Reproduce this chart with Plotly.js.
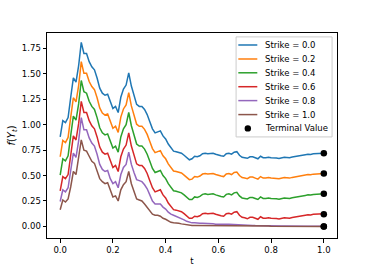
<!DOCTYPE html>
<html><head><meta charset="utf-8">
<script src="https://cdn.plot.ly/plotly-3.0.1.min.js"></script>
<style>html,body{margin:0;padding:0;background:#fff;}#chart{width:374px;height:273px;}</style>
</head><body><div id="chart"></div>
<script>
const t = [0.00,0.01,0.02,0.03,0.04,0.05,0.06,0.07,0.08,0.09,
  0.10,0.11,0.12,0.13,0.14,0.15,0.16,0.17,0.18,0.19,
  0.20,0.21,0.22,0.23,0.24,0.25,0.26,0.27,0.28,0.29,
  0.30,0.31,0.32,0.33,0.34,0.35,0.36,0.37,0.38,0.39,
  0.40,0.41,0.42,0.43,0.44,0.45,0.46,0.47,0.48,0.49,
  0.50,0.51,0.52,0.53,0.54,0.55,0.56,0.57,0.58,0.59,
  0.60,0.61,0.62,0.63,0.64,0.65,0.66,0.67,0.68,0.69,
  0.70,0.71,0.72,0.73,0.74,0.75,0.76,0.77,0.78,0.79,
  0.80,0.81,0.82,0.83,0.84,0.85,0.86,0.87,0.88,0.89,
  0.90,0.91,0.92,0.93,0.94,0.95,0.96,0.97,0.98,0.99,1.00];

const strikes = [0.0, 0.2, 0.4, 0.6, 0.8, 1.0];

const strike00 = [0.88,1.04,1.02,1.07,1.27,1.46,1.42,1.58,1.81,1.70,
  1.70,1.62,1.57,1.54,1.46,1.36,1.31,1.29,1.30,1.22,
  1.16,1.18,1.12,1.27,1.35,1.39,1.51,1.38,1.29,1.20,
  1.18,1.18,1.15,1.10,1.03,0.96,0.92,0.93,0.94,0.89,
  0.86,0.81,0.77,0.74,0.735,0.73,0.72,0.70,0.675,0.655,
  0.665,0.69,0.685,0.695,0.715,0.72,0.715,0.715,0.72,0.71,
  0.70,0.695,0.69,0.715,0.72,0.71,0.73,0.735,0.70,0.68,
  0.675,0.67,0.685,0.685,0.675,0.665,0.69,0.675,0.675,0.68,
  0.675,0.67,0.672,0.668,0.675,0.68,0.678,0.675,0.682,0.688,
  0.69,0.695,0.70,0.705,0.71,0.708,0.714,0.715,0.713,0.718,0.72];

const strike02 = [0.685,0.845,0.825,0.875,1.075,1.265,1.225,1.385,1.62,1.505,
  1.505,1.425,1.375,1.345,1.265,1.165,1.115,1.095,1.105,1.025,
  0.965,0.985,0.925,1.075,1.155,1.195,1.315,1.185,1.095,1.005,
  0.985,0.985,0.955,0.905,0.835,0.765,0.725,0.735,0.745,0.695,
  0.665,0.615,0.575,0.545,0.54,0.535,0.525,0.505,0.48,0.46,
  0.465,0.49,0.485,0.495,0.515,0.52,0.515,0.515,0.52,0.51,
  0.50,0.495,0.49,0.515,0.52,0.51,0.53,0.535,0.50,0.48,
  0.475,0.47,0.485,0.485,0.475,0.465,0.49,0.475,0.475,0.48,
  0.475,0.47,0.472,0.468,0.475,0.48,0.478,0.475,0.482,0.488,
  0.49,0.495,0.50,0.505,0.51,0.508,0.514,0.515,0.513,0.518,0.52];

const strike04 = [0.505,0.665,0.645,0.695,0.895,1.085,1.045,1.205,1.435,1.325,
  1.31,1.23,1.18,1.15,1.07,0.97,0.92,0.90,0.91,0.83,
  0.77,0.79,0.73,0.88,0.96,1.00,1.12,0.99,0.90,0.81,
  0.79,0.79,0.76,0.71,0.64,0.57,0.53,0.54,0.55,0.50,
  0.47,0.42,0.38,0.35,0.345,0.34,0.33,0.31,0.285,0.265,
  0.265,0.29,0.285,0.295,0.315,0.32,0.315,0.315,0.32,0.31,
  0.30,0.295,0.29,0.315,0.32,0.31,0.33,0.335,0.30,0.28,
  0.275,0.27,0.285,0.285,0.275,0.265,0.29,0.275,0.275,0.28,
  0.275,0.27,0.272,0.268,0.275,0.28,0.278,0.275,0.282,0.288,
  0.29,0.295,0.30,0.305,0.31,0.308,0.314,0.315,0.313,0.318,0.32];

const strike06 = [0.35,0.49,0.47,0.51,0.70,0.89,0.85,1.01,1.23,1.12,
  1.12,1.04,0.99,0.96,0.88,0.78,0.73,0.71,0.72,0.64,
  0.58,0.60,0.54,0.685,0.76,0.80,0.92,0.79,0.70,0.615,
  0.60,0.60,0.57,0.52,0.45,0.38,0.34,0.35,0.36,0.31,
  0.28,0.23,0.195,0.165,0.16,0.155,0.145,0.125,0.10,0.08,
  0.08,0.10,0.095,0.105,0.125,0.13,0.125,0.125,0.13,0.12,
  0.11,0.105,0.10,0.125,0.13,0.12,0.14,0.145,0.11,0.09,
  0.085,0.075,0.09,0.09,0.08,0.07,0.095,0.08,0.08,0.085,
  0.08,0.075,0.077,0.073,0.08,0.085,0.083,0.08,0.087,0.093,
  0.095,0.10,0.105,0.11,0.115,0.113,0.119,0.12,0.118,0.123,0.125];

const strike08 = [0.245,0.36,0.34,0.38,0.55,0.72,0.68,0.84,1.07,0.95,
  0.95,0.87,0.82,0.79,0.71,0.61,0.56,0.54,0.55,0.47,
  0.42,0.44,0.38,0.51,0.58,0.61,0.73,0.61,0.53,0.46,
  0.45,0.44,0.41,0.37,0.31,0.25,0.22,0.22,0.22,0.19,
  0.17,0.14,0.12,0.11,0.10,0.09,0.08,0.065,0.05,0.04,
  0.035,0.035,0.03,0.03,0.03,0.03,0.027,0.025,0.025,0.022,
  0.02,0.018,0.017,0.02,0.021,0.019,0.022,0.022,0.015,0.011,
  0.01,0.009,0.01,0.009,0.008,0.007,0.008,0.007,0.006,0.006,
  0.005,0.005,0.004,0.004,0.004,0.004,0.003,0.003,0.003,0.003,
  0.003,0.003,0.002,0.002,0.002,0.002,0.002,0.001,0.001,0.001,0.001];

const strike10 = [0.164,0.26,0.24,0.27,0.39,0.54,0.51,0.68,0.85,0.75,
  0.74,0.69,0.64,0.62,0.55,0.47,0.44,0.42,0.43,0.35,
  0.29,0.30,0.25,0.36,0.41,0.44,0.54,0.42,0.34,0.27,
  0.26,0.25,0.22,0.19,0.15,0.12,0.11,0.11,0.10,0.08,
  0.07,0.055,0.04,0.035,0.035,0.03,0.025,0.02,0.015,0.01,
  0.008,0.009,0.009,0.009,0.01,0.01,0.01,0.009,0.009,0.008,
  0.007,0.007,0.006,0.007,0.007,0.006,0.007,0.007,0.005,0.004,
  0.004,0.003,0.003,0.003,0.003,0.003,0.003,0.003,0.003,0.003,
  0.002,0.002,0.002,0.002,0.002,0.002,0.002,0.002,0.002,0.002,
  0.001,0.001,0.001,0.001,0.001,0.001,0.001,0.001,0.001,0.001,0.0];

const terminalT = [1.0, 1.0, 1.0, 1.0, 1.0, 1.0];
const terminalValues = [0.72, 0.52, 0.32, 0.12, 0.0, 0.0];
const terminalLabel = 'Terminal Value';

const xTicks = [0.0, 0.2, 0.4, 0.6, 0.8, 1.0];
const yTicks = [0.00, 0.25, 0.50, 0.75, 1.00, 1.25, 1.50, 1.75];

const seriesList = [strike00, strike02, strike04, strike06, strike08, strike10];
const colors = ['#1f77b4', '#ff7f0e', '#2ca02c', '#d62728', '#9467bd', '#8c564b'];
const labels = strikes.map(s => 'Strike = ' + s.toFixed(1));

const FONT = 'DejaVu Sans, Liberation Sans, sans-serif';
const FS = 8.5;

const traces = seriesList.map((ys, i) => ({
  x: t, y: ys, type: 'scatter', mode: 'lines', name: labels[i],
  line: {color: colors[i], width: 1.5}, showlegend: false, hoverinfo: 'skip'
}));
traces.push({
  x: terminalT, y: terminalValues, type: 'scatter', mode: 'markers', name: terminalLabel,
  marker: {color: '#000000', size: 6.5}, showlegend: false, hoverinfo: 'skip', cliponaxis: false
});

// Custom legend (matplotlib-like compact box)
const legX0 = 0.652, legX1 = 0.983, legY0 = 0.493, legY1 = 0.981;
const rowY = [0.9415, 0.8732, 0.8059, 0.7380, 0.6702, 0.6020, 0.5346];
const sampleX0 = 0.6597, sampleX1 = 0.7252, textX = 0.7459;
const shapes = [{
  type: 'rect', xref: 'paper', yref: 'paper', x0: legX0, x1: legX1, y0: legY0, y1: legY1,
  line: {color: '#cccccc', width: 1}, fillcolor: 'rgba(255,255,255,0.8)', layer: 'above'
}];
const annotations = [];
labels.forEach((lab, i) => {
  shapes.push({type: 'line', xref: 'paper', yref: 'paper', x0: sampleX0, x1: sampleX1,
    y0: rowY[i], y1: rowY[i], line: {color: colors[i], width: 1.5}, layer: 'above'});
  annotations.push({xref: 'paper', yref: 'paper', x: textX, y: rowY[i], xanchor: 'left', yanchor: 'middle',
    text: lab, showarrow: false, font: {family: FONT, size: FS, color: '#000'}});
});
shapes.push({type: 'circle', xref: 'paper', yref: 'paper', xsizemode: 'pixel', ysizemode: 'pixel',
  xanchor: (sampleX0 + sampleX1) / 2, yanchor: rowY[6], x0: -3.2, x1: 3.2, y0: -3.2, y1: 3.2,
  fillcolor: '#000', line: {color: '#000', width: 0}, layer: 'above'});
annotations.push({xref: 'paper', yref: 'paper', x: textX, y: rowY[6], xanchor: 'left', yanchor: 'middle',
  text: terminalLabel, showarrow: false, font: {family: FONT, size: FS, color: '#000'}});

const axisCommon = {
  showline: true, mirror: true, linecolor: '#000', linewidth: 1,
  ticks: 'outside', ticklen: 3.5, tickwidth: 1, tickcolor: '#000',
  showgrid: false, zeroline: false, tickfont: {family: FONT, size: FS, color: '#000'}
};

const layout = {
  width: 374, height: 273,
  margin: {l: 47, r: 37, t: 33, b: 35, pad: 0},
  paper_bgcolor: '#fff', plot_bgcolor: '#fff',
  showlegend: false,
  xaxis: Object.assign({}, axisCommon, {
    range: [-0.05, 1.05], tickvals: xTicks, ticktext: xTicks.map(v => v.toFixed(1)),
    title: {text: 't', font: {family: FONT, size: FS, color: '#000'}, standoff: 4}
  }),
  yaxis: Object.assign({}, axisCommon, {
    range: [-0.114, 1.902], tickvals: yTicks, ticktext: yTicks.map(v => v.toFixed(2)),
    title: {text: '<i>f</i>(<i>Y</i><sub><i>t</i></sub>)', font: {family: FONT, size: 10, color: '#000'}, standoff: 4}
  }),
  shapes: shapes, annotations: annotations
};

Plotly.newPlot('chart', traces, layout, {staticPlot: true, displayModeBar: false});
</script>
</body></html>
